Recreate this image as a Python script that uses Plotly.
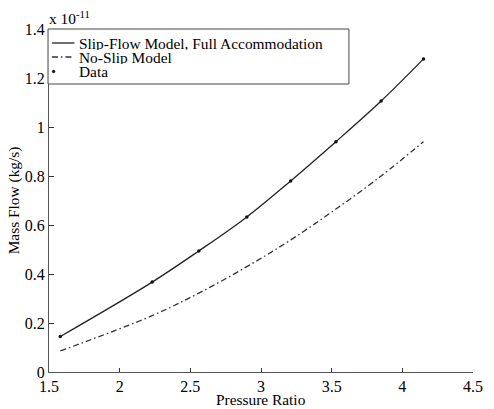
import plotly.graph_objects as go

# Pressure ratio at the data points
pressure_ratio = [1.58, 2.23, 2.56, 2.90, 3.21, 3.53, 3.85, 4.15]
# Mass flow (x 1e-11 kg/s)
slip_flow = [0.145, 0.367, 0.494, 0.633, 0.780, 0.940, 1.106, 1.278]
no_slip = [0.086, 0.230, 0.322, 0.430, 0.539, 0.665, 0.800, 0.940]
data_vals = [0.145, 0.367, 0.494, 0.633, 0.780, 0.940, 1.106, 1.278]

legend_labels = ["Slip-Flow Model, Full Accommodation", "No-Slip Model", "Data"]

x_ticks = [1.5, 2, 2.5, 3, 3.5, 4, 4.5]
y_ticks = [0, 0.2, 0.4, 0.6, 0.8, 1, 1.2, 1.4]

font_family = "Liberation Serif, Times New Roman, serif"
FS = 15.4
TFS = 16

W, H = 494, 409
ML, MR, MT, MB = 49, 11, 29, 37
PW, PH = W - ML - MR, H - MT - MB


def px_x(p):
    return (p - ML) / PW


def px_y(p):
    return (H - MB - p) / PH


solid_style = dict(color="#222222", width=1.3)
dashdot_style = dict(color="#333333", width=1.3, dash="6px,3px,1.5px,3px")

fig = go.Figure()
fig.add_trace(go.Scatter(
    x=pressure_ratio, y=slip_flow, mode="lines", line_shape="spline",
    name=legend_labels[0], line=solid_style))
fig.add_trace(go.Scatter(
    x=pressure_ratio, y=no_slip, mode="lines", line_shape="spline",
    name=legend_labels[1], line=dashdot_style))
fig.add_trace(go.Scatter(
    x=pressure_ratio, y=data_vals, mode="markers", name=legend_labels[2],
    marker=dict(color="#111111", size=3.5, symbol="circle")))

fig.update_layout(
    width=W, height=H,
    margin=dict(l=ML, r=MR, t=MT, b=MB),
    paper_bgcolor="white", plot_bgcolor="white",
    font=dict(family=font_family, size=FS, color="black"),
    showlegend=False,
    xaxis=dict(range=[1.5, 4.5], tickvals=x_ticks,
               ticktext=[f"{v:g}" for v in x_ticks],
               ticks="inside", ticklen=4, tickcolor="#333333",
               tickfont=dict(size=TFS),
               showline=True, linecolor="#555555", linewidth=1.2,
               showgrid=False, zeroline=False),
    yaxis=dict(range=[0, 1.4], tickvals=y_ticks,
               ticktext=[f"{v:g}" for v in y_ticks],
               ticks="inside", ticklen=5, tickcolor="#333333",
               tickfont=dict(size=TFS),
               showline=True, linecolor="#555555", linewidth=1.2,
               showgrid=False, zeroline=False),
)

# axis titles
fig.add_annotation(x=0.5, y=px_y(399), xref="paper", yref="paper",
                   xanchor="center", yanchor="middle", text="Pressure Ratio",
                   showarrow=False, height=16,
                   font=dict(size=FS, family=font_family))
fig.add_annotation(x=px_x(13), y=0.5, xref="paper", yref="paper",
                   xanchor="center", yanchor="middle", text="Mass Flow (kg/s)",
                   textangle=-90, showarrow=False,
                   font=dict(size=FS, family=font_family))

# exponent label
fig.add_annotation(x=px_x(47), y=1, xref="paper", yref="paper",
                   xanchor="left", yanchor="bottom", yshift=0,
                   text="x 10<sup>-11</sup>", showarrow=False,
                   font=dict(size=FS, family=font_family))

# legend box
fig.add_shape(type="rect", xref="paper", yref="paper",
              x0=px_x(48), x1=px_x(356), y0=px_y(84), y1=px_y(29),
              line=dict(color="#444444", width=1), fillcolor="white",
              layer="above")
rows = [43, 57, 71.5]
fig.add_shape(type="line", xref="paper", yref="paper",
              x0=px_x(52), x1=px_x(75), y0=px_y(rows[0]), y1=px_y(rows[0]),
              line=solid_style, layer="above")
fig.add_shape(type="line", xref="paper", yref="paper",
              x0=px_x(52), x1=px_x(75), y0=px_y(rows[1]), y1=px_y(rows[1]),
              line=dashdot_style, layer="above")
fig.add_shape(type="circle", xref="paper", yref="paper",
              x0=px_x(52.5), x1=px_x(55), y0=px_y(rows[2] + 1.2),
              y1=px_y(rows[2] - 1.2),
              line=dict(color="#111111", width=1), fillcolor="#111111",
              layer="above")
for r, lab in zip(rows, legend_labels):
    fig.add_annotation(x=px_x(78), y=px_y(r), xref="paper", yref="paper",
                       xanchor="left", yanchor="middle", text=lab,
                       showarrow=False, height=14,
                       font=dict(size=FS, family=font_family))

fig.write_html(
    "out.html",
    config={"displayModeBar": False},
    post_script="document.body.style.margin='0';document.body.style.overflow='hidden';",
)
